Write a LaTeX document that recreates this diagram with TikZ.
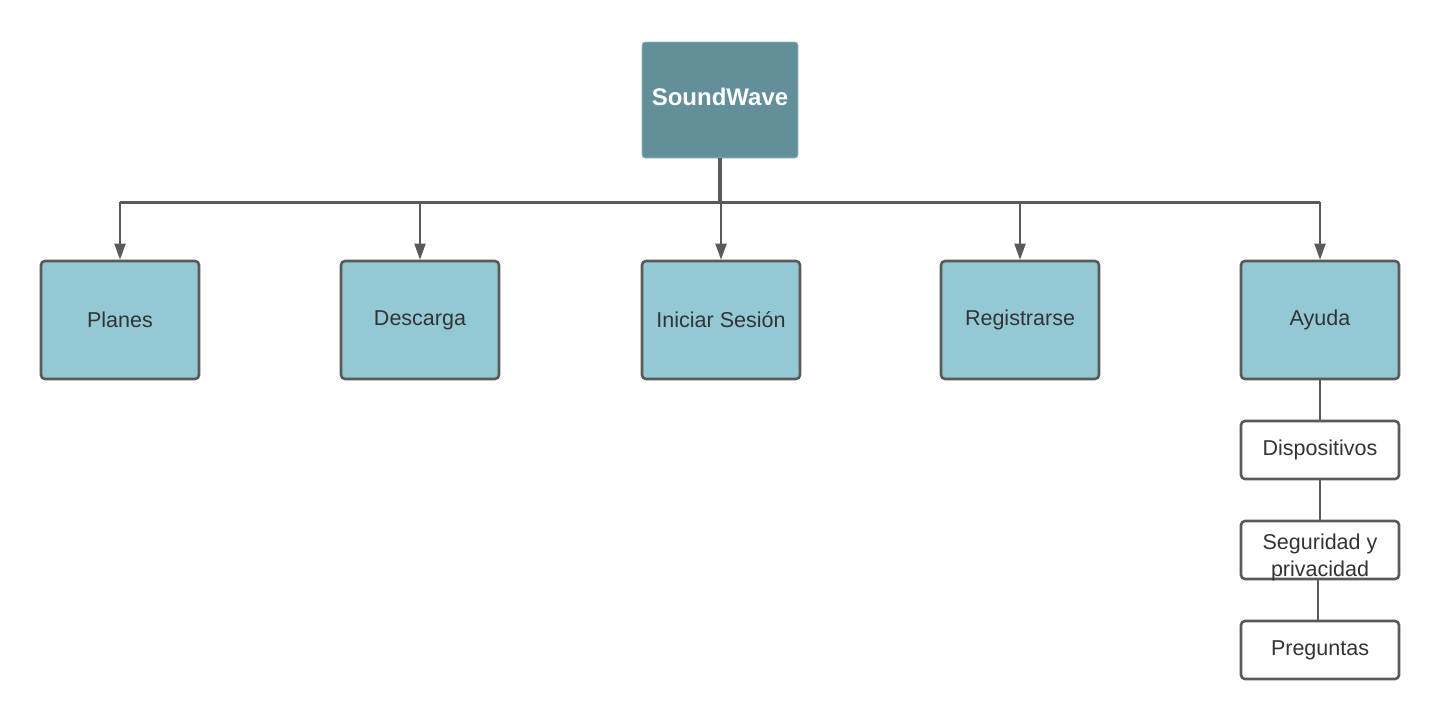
\documentclass[tikz,border=0pt]{standalone}
\usepackage{fontspec}
\setmainfont{Liberation Sans}
\usetikzlibrary{arrows.meta}
\definecolor{topteal}{HTML}{628F9A}
\definecolor{boxblue}{HTML}{93C9D5}
\definecolor{lineg}{HTML}{5A5A5A}
\definecolor{textg}{HTML}{333333}
\begin{document}
\begin{tikzpicture}[x=1pt,y=-1pt,
    topbox/.style={fill=topteal,draw=topteal!60,line width=0.8pt,rounded corners=3pt,minimum width=156pt,minimum height=116pt,inner sep=0pt,text=white,font=\fontsize{24}{28}\selectfont\bfseries},
    menubox/.style={fill=boxblue,draw=lineg,line width=2.6pt,rounded corners=4pt,minimum width=158pt,minimum height=118pt,inner sep=0pt,text=textg,font=\fontsize{21.5}{26}\selectfont},
    subbox/.style={fill=white,draw=lineg,line width=2.6pt,rounded corners=4pt,minimum width=158pt,minimum height=58pt,inner sep=0pt,text=textg,align=center,font=\fontsize{21.5}{27}\selectfont}]
\useasboundingbox (0,0) rectangle (1440,720);

\node[topbox] (sw) at (720,100) {};
\node[text=white,font=\fontsize{24}{28}\selectfont\bfseries] (swtext) at (720,97) {SoundWave};

\node[menubox] (planes) at (120,320) {Planes};
\node[menubox] (descarga) at (420,320) {Descarga};
\node[menubox] (sesion) at (721,320) {Iniciar Sesión};
\node[menubox] (registro) at (1020,320) {Registrarse};
\node[menubox] (ayuda) at (1320,320) {Ayuda};

\node[subbox] (disp) at (1320,450) {Dispositivos};
\node[subbox] (seg) at (1320,550) {};
\node[text=textg,align=center,font=\fontsize{21.5}{27}\selectfont] (segtext) at (1320,557) {Seguridad y\\privacidad};
\node[subbox] (preg) at (1320,650) {Preguntas};

\coordinate (bus) at (720,202);
\draw[lineg,line width=4pt] (sw.south) -- (bus);
\draw[lineg,line width=3pt] (planes.north |- bus) -- (ayuda.north |- bus);
\foreach \m in {planes,descarga,sesion,registro,ayuda}
    \draw[lineg,line width=2pt,-{Triangle[length=16pt,width=11pt]}] (\m.north |- bus) -- (\m.north);

\draw[lineg,line width=2.6pt] (ayuda.south) -- (disp.north);
\draw[lineg,line width=2.6pt] (disp.south) -- (seg.north);
\draw[lineg,line width=2.6pt] ([xshift=-2pt]seg.south) -- ([xshift=-2pt]preg.north);
\end{tikzpicture}
\end{document}
